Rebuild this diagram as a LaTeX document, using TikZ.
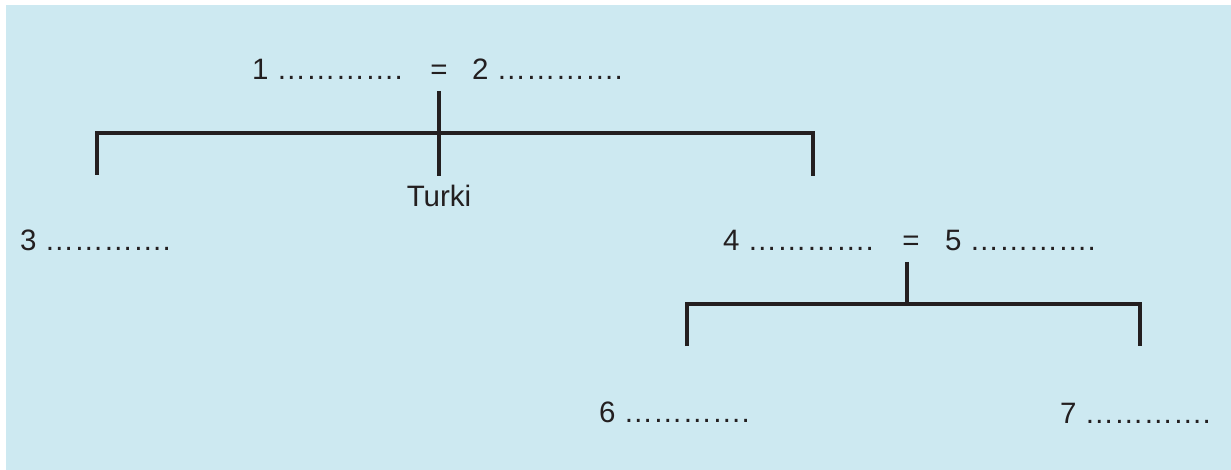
\documentclass[tikz,border=0pt]{standalone}
\usepackage{fontspec}
\setmainfont{Liberation Sans}
\definecolor{bgblue}{HTML}{CDE9F1}
\definecolor{ink}{HTML}{231F20}
\tikzset{
  lbl/.style={inner sep=0pt, outer sep=0pt, text=ink, font=\fontsize{29.5}{35}\selectfont},
  bracket/.style={draw=ink, line width=4pt, miter limit=10},
}
\begin{document}
\begin{tikzpicture}[x=1pt,y=-1pt]
\useasboundingbox (0,0) rectangle (1231,470);
\fill[bgblue] (6,5) rectangle (1231,470);
% top generation
\node[lbl, anchor=base west] (n1) at (252,80) {1 …………. };
\node[lbl, anchor=base] (eq1) at (439,80) {=};
\node[lbl, anchor=base west] (n2) at (472,80) {2 ………….};
\node[lbl, anchor=base] (turki) at (439,207) {Turki};
\node[lbl, anchor=base west] (n3) at (20,251) {3 ………….};
\node[lbl, anchor=base west] (n4) at (723,251) {4 ………….};
\node[lbl, anchor=base] (eq2) at (911,251) {=};
\node[lbl, anchor=base west] (n5) at (945,251) {5 ………….};
\node[lbl, anchor=base west] (n6) at (599,422) {6 ………….};
\node[lbl, anchor=base west] (n7) at (1060,423) {7 ………….};
% bracket points
\coordinate (a0) at (439,91);
\coordinate (a1) at (439,176);
\coordinate (aL) at (97,175);
\coordinate (aLt) at (97,133);
\coordinate (aRt) at (813,133);
\coordinate (aR) at (813,176);
\coordinate (b0) at (907,262);
\coordinate (b1) at (907,304);
\coordinate (bL) at (687,346);
\coordinate (bLt) at (687,304);
\coordinate (bRt) at (1140,304);
\coordinate (bR) at (1140,346);
\draw[bracket] (aL) -- (aLt) -- (aRt) -- (aR);
\draw[bracket] (a0) -- (a1);
\draw[bracket] (bL) -- (bLt) -- (bRt) -- (bR);
\draw[bracket] (b0) -- (b1);
\end{tikzpicture}
\end{document}
